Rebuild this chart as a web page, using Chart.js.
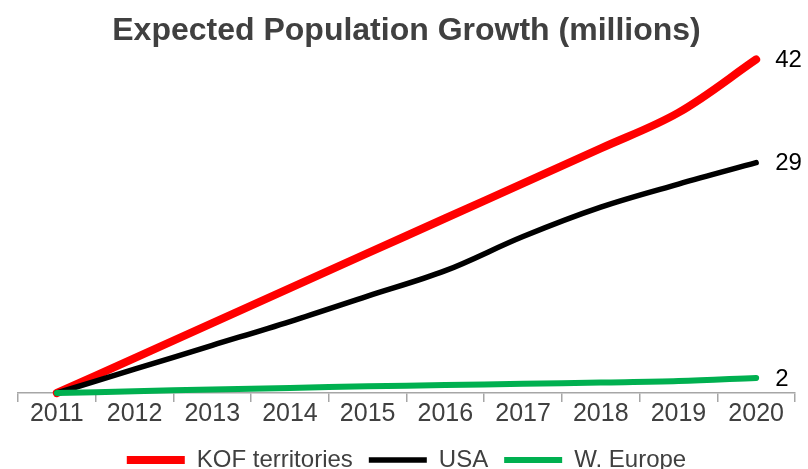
<!DOCTYPE html>
<html><head><meta charset="utf-8">
<script src="https://cdn.jsdelivr.net/npm/chart.js@4/dist/chart.umd.min.js"></script>
<style>html,body{margin:0;padding:0;background:#fff}</style>
</head><body>
<canvas id="c" width="808" height="469"></canvas>
<script>
const years = ['2011','2012','2013','2014','2015','2016','2017','2018','2019','2020'];
const kofValues = [0, 4.4, 8.8, 13.2, 17.6, 22.0, 26.4, 30.8, 35.3, 42];
const usaValues = [0, 3.0, 6.0, 9.0, 12.2, 15.4, 19.7, 23.4, 26.3, 29];
const weuValues = [0, 0.22, 0.44, 0.64, 0.84, 1.0, 1.16, 1.32, 1.5, 1.9];
const seriesNames = ['KOF territories', 'USA', 'W. Europe'];
const titleText = 'Expected Population Growth (millions)';

const FONT = "'Liberation Sans', Arial, sans-serif";

const endLabels = {
  id: 'endLabels',
  afterDatasetsDraw(chart) {
    const ctx = chart.ctx;
    ctx.save();
    ctx.font = '24px ' + FONT;
    ctx.fillStyle = '#000';
    ctx.textBaseline = 'middle';
    ctx.textAlign = 'left';
    chart.data.datasets.forEach((ds, i) => {
      const meta = chart.getDatasetMeta(i);
      const last = meta.data[meta.data.length - 1];
      ctx.fillText(String(Math.round(ds.data[ds.data.length - 1])), last.x + 19, last.y + 1);
    });
    ctx.restore();
  }
};

new Chart(document.getElementById('c'), {
  type: 'line',
  data: {
    labels: years,
    datasets: [
      { label: seriesNames[0], data: kofValues, borderColor: '#FF0000', backgroundColor: '#FF0000', borderWidth: 8, order: 2 },
      { label: seriesNames[1], data: usaValues, borderColor: '#000000', backgroundColor: '#000000', borderWidth: 5.5, order: 1 },
      { label: seriesNames[2], data: weuValues, borderColor: '#00B050', backgroundColor: '#00B050', borderWidth: 6, order: 0 }
    ].map(d => Object.assign(d, { tension: 0.35, pointRadius: 0, pointHoverRadius: 0, fill: false, clip: false, borderCapStyle: 'round', borderJoinStyle: 'round' }))
  },
  options: {
    responsive: false,
    devicePixelRatio: 1,
    animation: false,
    layout: { padding: { left: 18, right: 13, top: 12, bottom: -13 } },
    plugins: {
      title: {
        display: true, text: titleText, color: '#404040',
        font: { family: FONT, size: 32, weight: 'bold' },
        padding: { top: 0, bottom: 9 }
      },
      legend: {
        position: 'bottom',
        labels: {
          usePointStyle: true, pointStyle: 'line', pointStyleWidth: 58,
          color: '#404040', font: { family: FONT, size: 24 }, padding: 16,
          sort: (a, b) => a.datasetIndex - b.datasetIndex
        }
      },
      tooltip: { enabled: false }
    },
    scales: {
      x: {
        offset: true,
        afterFit: (s) => { s.height = 39; },
        grid: { offset: true, drawOnChartArea: false, drawTicks: true, tickLength: 9, color: '#a6a6a6', lineWidth: 1.5 },
        border: { color: '#a6a6a6', width: 1.5 },
        ticks: { color: '#404040', font: { family: FONT, size: 25, lineHeight: 1.76 }, padding: -10, maxRotation: 0, autoSkip: false }
      },
      y: { display: false, min: 0, max: 42 }
    }
  },
  plugins: [endLabels]
});
</script>
</body></html>
